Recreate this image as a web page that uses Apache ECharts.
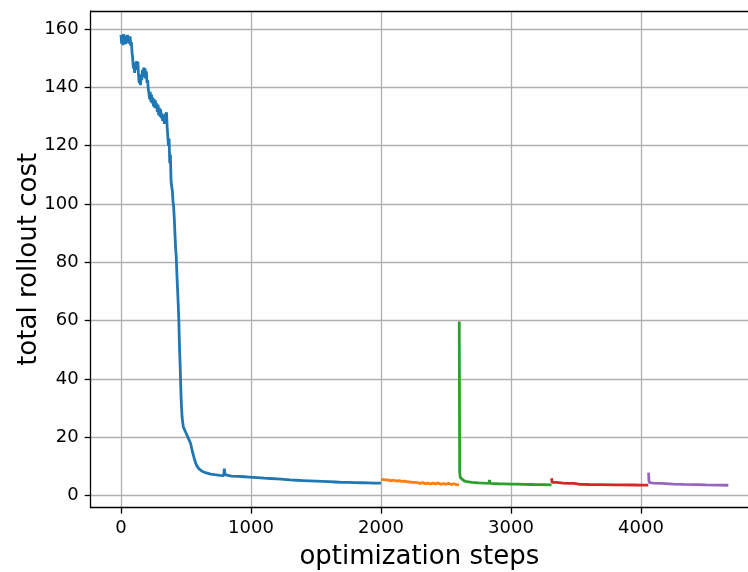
<!DOCTYPE html>
<html>
<head>
<meta charset="utf-8">
<script src="https://cdn.jsdelivr.net/npm/echarts@6/dist/echarts.min.js"></script>
<style>html,body{margin:0;padding:0;background:#fff}#c{width:748px;height:572px}</style>
</head>
<body>
<div id="c"></div>
<script>
const xTicks = [0, 1000, 2000, 3000, 4000];
const yTicks = [0, 20, 40, 60, 80, 100, 120, 140, 160];
const xTitle = 'optimization steps';
const yTitle = 'total rollout cost';

const blue = [[0,158],[5,155],[10,157.5],[15,154.5],[20,158.3],[25,155.5],[30,157],[35,154.8],[40,157.8],[45,155.2],[50,158],[55,155.8],[60,157.2],[65,155],[70,157.5],[75,154.2],[80,155.5],[85,152],[90,150],[95,146.5],[100,148.5],[105,145],[110,148],[115,146],[120,149],[125,146.5],[130,148.8],[135,144],[140,141.5],[145,143],[150,140.8],[155,144.5],[160,142.5],[165,146],[170,143.5],[175,146.8],[180,144],[185,146.5],[190,143],[195,145.5],[200,141.5],[205,142.5],[210,139.5],[215,138],[220,136],[225,138.5],[230,135],[235,137.5],[240,134.5],[245,136.5],[250,133.5],[255,136],[260,133],[265,135.5],[270,132.8],[275,134.5],[280,131.5],[285,134],[290,130.5],[295,133],[300,130],[305,132.5],[310,129.5],[315,131],[320,128.5],[325,130.5],[330,130],[335,127.5],[340,131],[345,128],[350,131.5],[355,126.5],[360,127],[365,120],[370,122.5],[375,114],[380,117],[385,108],[390,106],[395,104.5],[400,101],[405,99],[410,95],[415,90],[420,85],[425,82],[430,76],[435,71],[440,66],[445,60],[450,51],[455,45],[458,40],[462,34],[466,30],[470,27],[475,25],[480,23.5],[500,21.5],[520,19.5],[535,18],[550,15],[565,12.5],[580,10.5],[600,9.2],[620,8.5],[650,7.9],[690,7.4],[720,7.2],[760,7.0],[790,6.9],[795,9.3],[800,7.2],[805,6.8],[850,6.7],[900,6.6],[950,6.5],[985,6.4],[990,7.0],[995,6.4],[1050,6.2],[1100,6.0],[1150,5.9],[1200,5.8],[1230,5.7],[1235,6.1],[1240,5.6],[1300,5.4],[1350,5.3],[1400,5.2],[1450,5.1],[1500,5.0],[1505,5.3],[1510,5.0],[1550,4.9],[1600,4.8],[1605,5.1],[1610,4.8],[1650,4.7],[1700,4.6],[1750,4.55],[1800,4.5],[1850,4.45],[1855,4.8],[1860,4.45],[1900,4.4],[1950,4.35],[2000,4.3]];

const orange = [[2000,5.6],[2010,5.0],[2020,5.5],[2030,4.9],[2040,5.4],[2050,5.1],[2060,5.3],[2070,4.8],[2080,5.2],[2090,4.9],[2100,5.3],[2110,4.8],[2120,5.0],[2130,4.7],[2140,5.2],[2150,4.6],[2160,4.9],[2170,4.6],[2180,5.0],[2190,4.5],[2200,4.8],[2210,4.4],[2220,4.7],[2230,4.4],[2240,4.6],[2250,4.3],[2260,4.6],[2270,4.2],[2280,4.5],[2300,4.2],[2320,4.5],[2340,4.1],[2360,4.3],[2380,4.0],[2400,4.3],[2420,4.0],[2440,4.4],[2460,3.9],[2480,4.2],[2500,3.9],[2520,4.3],[2540,3.8],[2560,4.1],[2580,3.8],[2595,4.0],[2600,3.7]];

const green = [[2602,59.7],[2605,8],[2610,6.2],[2620,5.6],[2640,5.1],[2660,4.8],[2700,4.6],[2750,4.4],[2800,4.3],[2830,4.25],[2835,5.4],[2840,4.2],[2850,4.2],[2900,4.1],[2950,4.05],[3000,4.0],[3050,3.95],[3052,4.3],[3055,3.95],[3100,3.9],[3150,3.85],[3152,4.2],[3155,3.85],[3200,3.8],[3250,3.78],[3252,4.1],[3255,3.78],[3312,3.7]];

const red = [[3312,6.0],[3316,4.6],[3330,4.4],[3350,4.6],[3360,4.3],[3400,4.3],[3440,4.2],[3485,4.2],[3492,4.7],[3500,4.1],[3530,3.9],[3600,3.85],[3700,3.8],[3800,3.75],[3860,3.72],[3864,4.2],[3868,3.72],[3950,3.68],[4000,3.65],[4056,3.62]];

const purple = [[4058,7.9],[4062,4.6],[4080,4.4],[4100,4.3],[4160,4.2],[4167,4.5],[4172,4.15],[4250,4.0],[4330,3.9],[4338,4.2],[4344,3.9],[4430,3.8],[4438,4.1],[4444,3.8],[4500,3.7],[4600,3.62],[4672,3.58]];

const colors = ['#1f77b4', '#ff7f0e', '#2ca02c', '#d62728', '#9467bd'];
const seriesData = [blue, orange, green, red, purple];

const chart = echarts.init(document.getElementById('c'), null, {renderer: 'canvas'});
const font = 'DejaVu Sans';
const X_MIN = -233, X_MAX = 4823;
chart.setOption({
  animation: false,
  backgroundColor: '#fff',
  grid: {left: 90.7, top: 11, right: 0, bottom: 64.3, show: false, containLabel: false, outerBoundsMode: 'none'},
  xAxis: [{
    type: 'value', min: X_MIN, max: X_MAX,
    name: xTitle, nameLocation: 'middle', nameGap: 37,
    nameTextStyle: {fontFamily: font, fontSize: 26, color: '#000'},
    axisLine: {show: true, onZero: false, lineStyle: {color: '#000', width: 1.3}},
    axisTick: {show: true, length: 6, lineStyle: {color: '#000', width: 1.3}, customValues: xTicks},
    axisLabel: {fontFamily: font, fontSize: 18, color: '#000', margin: 12, customValues: xTicks, formatter: v => String(v)},
    splitLine: {show: true, lineStyle: {color: '#b0b0b0', width: 1.3}}
  }, {
    type: 'value', position: 'top', min: X_MIN, max: X_MAX,
    axisLine: {show: true, onZero: false, lineStyle: {color: '#000', width: 1.3}},
    axisTick: {show: false}, axisLabel: {show: false}, splitLine: {show: false}
  }],
  yAxis: {
    type: 'value', min: -4.11, max: 166.2,
    name: yTitle, nameLocation: 'middle', nameGap: 48, nameMoveOverlap: false,
    nameTextStyle: {fontFamily: font, fontSize: 26, color: '#000'},
    axisLine: {show: true, onZero: false, lineStyle: {color: '#000', width: 1.3}},
    axisTick: {show: true, length: 6, lineStyle: {color: '#000', width: 1.3}, customValues: yTicks},
    axisLabel: {fontFamily: font, fontSize: 18, color: '#000', margin: 12, customValues: yTicks, formatter: v => String(v)},
    splitLine: {show: true, lineStyle: {color: '#b0b0b0', width: 1.3}}
  },
  series: seriesData.map((d, i) => ({
    type: 'line', data: d, showSymbol: false, symbol: 'none', xAxisIndex: 0,
    lineStyle: {color: colors[i], width: 2.8}, itemStyle: {color: colors[i]},
    z: 3 + i
  }))
});
</script>
</body>
</html>
